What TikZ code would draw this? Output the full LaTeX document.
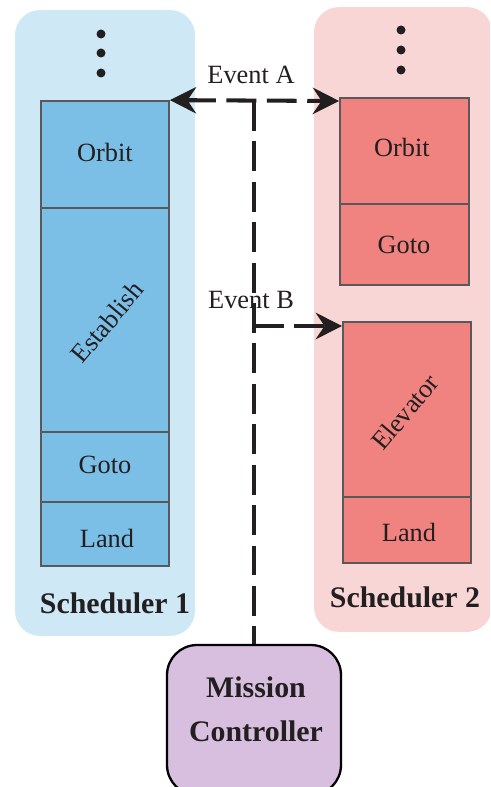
\documentclass[tikz,border=0pt]{standalone}
\usepackage{fontspec}
\setmainfont{Liberation Serif}
\usetikzlibrary{arrows.meta}
\definecolor{lbg}{HTML}{CFE8F6}
\definecolor{lblk}{HTML}{7BBFE7}
\definecolor{rbg}{HTML}{F8D6D5}
\definecolor{rblk}{HTML}{F08380}
\definecolor{mcf}{HTML}{D8BFDF}
\definecolor{txt}{HTML}{231F20}
\tikzset{
  bgbox/.style={rounded corners=0.5cm, inner sep=0pt, draw=none},
  blk/.style={draw=black!65, line width=1pt, inner sep=0pt, text=txt,
    font=\fontsize{15}{18}\selectfont},
  lblkst/.style={blk, fill=lblk, minimum width=2.56cm},
  rblkst/.style={blk, fill=rblk},
  evt/.style={line width=2.3pt, dash pattern=on 17pt off 6pt, txt,
    -{Stealth[length=15pt,width=15pt,inset=5pt]}},
  evtline/.style={line width=2.3pt, dash pattern=on 17pt off 6pt, txt},
  dotst/.style={circle, fill=txt, inner sep=0pt, minimum size=0.18cm},
  schd/.style={font=\bfseries\fontsize{17}{21}\selectfont, text=txt},
  evlab/.style={font=\fontsize{15}{18}\selectfont, text=txt},
}
\begin{document}
\begin{tikzpicture}[x=0.02cm, y=-0.02cm]
\useasboundingbox (0,0) rectangle (490,787);
\clip (0,0) rectangle (490,787);
% backgrounds
\node[bgbox, fill=lbg, minimum width=3.6cm, minimum height=12.52cm] (lbgn) at (105,323) {};
\node[bgbox, fill=rbg, minimum width=3.56cm, minimum height=12.5cm] (rbgn) at (403,319.5) {};
% dots
\node[dotst] (ld1) at (101,34) {};
\node[dotst] (ld2) at (101,53) {};
\node[dotst] (ld3) at (101,73) {};
\node[dotst] (rd1) at (401,30) {};
\node[dotst] (rd2) at (401,50) {};
\node[dotst] (rd3) at (401,70) {};
% left stack
\node[lblkst, minimum height=2.14cm] (lorbit) at (105,154.5) {};
\node[lblkst, minimum height=4.48cm] (lest) at (105,320) {};
\node[lblkst, minimum height=1.4cm] (lgoto) at (105,467) {};
\node[lblkst, minimum height=1.28cm] (lland) at (105,534) {};
\node[evlab] (tlorbit) at (105,152) {Orbit};
\node[evlab, rotate=50, inner sep=0pt] (tlest) at (107,322) {Establish};
\node[evlab] (tlgoto) at (105,465) {Goto};
\node[evlab] (tlland) at (107,538) {Land};
% right stack 1
\node[rblkst, minimum width=2.58cm, minimum height=2.12cm] (rorbit) at (404.5,151) {};
\node[rblkst, minimum width=2.58cm, minimum height=1.62cm] (rgoto) at (404.5,244.5) {};
\node[evlab] (trorbit) at (402,147) {Orbit};
\node[evlab] (trgoto) at (404,245) {Goto};
% right stack 2
\node[rblkst, minimum width=2.56cm, minimum height=3.5cm] (relev) at (407,409.5) {};
\node[rblkst, minimum width=2.56cm, minimum height=1.32cm] (rland) at (407,530) {};
\node[evlab, rotate=50, inner sep=0pt] (trelev) at (405,412) {Elevator};
\node[evlab] (trland) at (409,532) {Land};
% scheduler labels
\node[schd] (s1) at (115,603) {Scheduler 1};
\node[schd] (s2) at (405,597) {Scheduler 2};
% mission controller
\node[draw=black, line width=1.3pt, fill=mcf, rounded corners=0.6cm,
  minimum width=3.48cm, minimum height=3.0cm, inner sep=0pt] (mc) at (254,720) {};
\node[font=\bfseries\fontsize{17}{22}\selectfont, text=txt, align=center] (mct) at (256,709)
  {Mission\\[3pt]Controller};
% event lines
\coordinate (ja) at (254,101);
\coordinate (jb) at (254,326);
\draw[evtline] (ja) -- (mc.north);
\draw[evt, {Stealth[length=15pt,width=15pt,inset=5pt]}-{Stealth[length=15pt,width=15pt,inset=5pt]}]
  (lorbit.north east) -- (ja -| rorbit.west);
\draw[evt] (jb) -- (jb -| relev.west);
\node[evlab] (ea) at (251,75) {Event A};
\node[evlab] (eb) at (251,300) {Event B};
\end{tikzpicture}
\end{document}
